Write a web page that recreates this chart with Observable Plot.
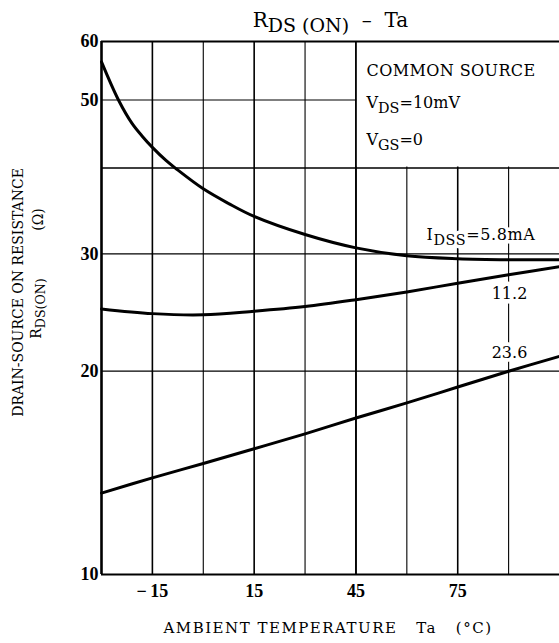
<!DOCTYPE html>
<html><head><meta charset="utf-8">
<script src="https://cdn.jsdelivr.net/npm/d3@7"></script>
<script src="https://cdn.jsdelivr.net/npm/@observablehq/plot@0.6"></script>
<style>html,body{margin:0;padding:0;background:#fff} svg{display:block}</style>
</head><body><div id="chart"></div>
<script>
// ---- data ----
const temps58 = [-30, -25, -21, -18, -15, -11, -8, 0, 7.5, 15, 30, 45, 60, 75, 90, 105];
const rds58   = [56.3, 50.0, 46.3, 44.4, 42.8, 41.0, 39.9, 37.3, 35.5, 34.0, 32.0, 30.6, 29.8, 29.5, 29.4, 29.4];
const temps   = [-30, -15, 0, 15, 30, 45, 60, 75, 90, 105];
const rds112  = [24.8, 24.4, 24.3, 24.6, 25.0, 25.6, 26.3, 27.1, 27.9, 28.7];
const rds236  = [13.2, 13.9, 14.6, 15.35, 16.15, 17.05, 17.95, 18.95, 20.0, 21.05];
const xGrid = [-15, 0, 15, 30, 45, 60, 75, 90];
const xTickLabels = [-15, 15, 45, 75];
const yGrid = [20, 30, 40, 50];
const yTickLabels = [10, 20, 30, 50, 60];
const yScaleStops = [10, 20, 30, 40, 50, 60];
const seriesLabels = ["IDSS=5.8mA", "11.2", "23.6"];
const conditionLabels = ["COMMON SOURCE", "VDS=10mV", "VGS=0"];
const title = "RDS (ON)\u00a0\u00a0–\u00a0\u00a0Ta";
const xLabel = "AMBIENT TEMPERATURE\u00a0\u00a0\u00a0Ta\u00a0\u00a0\u00a0(°C)";
const yLabel1 = "DRAIN-SOURCE ON RESISTANCE";
const yLabel2 = "RDS(ON)";
const yLabel3 = "(Ω)";

// subscript splits: [main, subscript, rest, shift(px), size]
const subs = {
  [title]: ["R", "DS (ON)", "\u00a0\u00a0–\u00a0\u00a0Ta", 5, "0.95em"],
  "VDS=10mV": ["V", "DS", "=10mV", 5, "0.9em"],
  "VGS=0": ["V", "GS", "=0", 5, "0.9em"],
  "IDSS=5.8mA": ["I", "DSS", "=5.8mA", 5, "0.9em"],
  "RDS(ON)": ["R", "DS(ON)", "", 4, "0.9em"]
};
const spacing = {[xLabel]: 1.5, "IDSS=5.8mA": 0.6, "COMMON SOURCE": 0.4};

const s58 = temps58.map((t, i) => ({t, r: rds58[i]}));
const s112 = temps.map((t, i) => ({t, r: rds112[i]}));
const s236 = temps.map((t, i) => ({t, r: rds236[i]}));

const L = 101, T = 41, B = 574;
const at = (px, py) => ({frameAnchor: "top-left", dx: px - L, dy: py - T, lineAnchor: "middle"});
const serif = "DejaVu Serif";
const tickFont = {fontFamily: "Liberation Serif", fontWeight: "bold", fontSize: 18};
const curveStyle = {x: "t", y: "r", stroke: "black", strokeWidth: 3, curve: "catmull-rom"};

const chart = Plot.plot({
  width: 559, height: 643,
  marginLeft: L, marginRight: 0, marginTop: T, marginBottom: 643 - B,
  style: {fontFamily: serif, background: "white", color: "black", overflow: "visible"},
  x: {domain: [-30, 105]},
  // log scale, piecewise-calibrated to the printed grid
  y: {type: "log", domain: yScaleStops, range: [B, 370.7, 253.3, 167.5, 99.5, T]},
  marks: [
    Plot.ruleX(xGrid, {x: d => d, stroke: "black", strokeWidth: d => xTickLabels.includes(d) ? 1.6 : 1.1}),
    Plot.ruleY(yGrid, {y: d => d, stroke: "black", strokeWidth: 1.2}),
    Plot.rect([0], {x1: 45, x2: 105, y1: 40, y2: 60, fill: "white", insetLeft: 1, insetBottom: 1}),
    Plot.ruleX([45], {x: d => d, stroke: "black", strokeWidth: 1.6}),
    Plot.ruleY([40], {y: d => d, stroke: "black", strokeWidth: 1.2}),
    Plot.line(s58, curveStyle),
    Plot.line(s112, curveStyle),
    Plot.line(s236, curveStyle),
    Plot.ruleX([-30], {x: d => d, stroke: "black", strokeWidth: 2.6}),
    Plot.ruleY([60], {y: d => d, stroke: "black", strokeWidth: 2}),
    Plot.ruleY([10], {y: d => d, stroke: "black", strokeWidth: 2.2}),
    Plot.axisY(yTickLabels, {tickSize: 0, tickPadding: 3, tickFormat: d => String(d), label: null, ...tickFont}),
    Plot.axisX(xTickLabels, {tickSize: 0, tickPadding: 10, tickFormat: d => d < 0 ? "−\u2009" + (-d) : String(d), label: null, ...tickFont}),
    Plot.text([title], {text: d => d, ...at(330, 20), textAnchor: "middle", fontSize: 20}),
    Plot.text([conditionLabels[0]], {text: d => d, ...at(366, 70.5), textAnchor: "start", fontSize: 16}),
    Plot.text([conditionLabels[1]], {text: d => d, ...at(366, 102.5), textAnchor: "start", fontSize: 16}),
    Plot.text([conditionLabels[2]], {text: d => d, ...at(366, 139), textAnchor: "start", fontSize: 16}),
    Plot.text([seriesLabels[0]], {text: d => d, ...at(426, 234.5), textAnchor: "start", fontSize: 16, fill: "black", stroke: "white", strokeWidth: 7}),
    Plot.text([seriesLabels[1]], {text: d => d, ...at(509, 293.5), textAnchor: "middle", fontSize: 16, fill: "black", stroke: "white", strokeWidth: 9}),
    Plot.text([seriesLabels[2]], {text: d => d, ...at(509, 352), textAnchor: "middle", fontSize: 16, fill: "black", stroke: "white", strokeWidth: 8}),
    Plot.text([xLabel], {text: d => d, ...at(327.5, 627.5), textAnchor: "middle", fontSize: 15}),
    Plot.text([yLabel1], {text: d => d, ...at(18.5, 292), rotate: -90, textAnchor: "middle", fontSize: 14}),
    Plot.text([yLabel2], {text: d => d, ...at(36, 308), rotate: -90, textAnchor: "middle", fontSize: 14}),
    Plot.text([yLabel3], {text: d => d, ...at(38, 219), rotate: -90, textAnchor: "middle", fontSize: 14})
  ]
});

// tick label fonts (make sure they apply)
d3.select(chart).selectAll('g[aria-label="y-axis tick label"], g[aria-label="x-axis tick label"]')
  .attr("font-family", "Liberation Serif").attr("font-weight", "bold").attr("font-size", 18);

d3.select(chart).selectAll("text").each(function() {
  const txt = this.textContent;
  if (spacing[txt] != null) this.setAttribute("letter-spacing", spacing[txt]);
  const p = subs[txt];
  if (!p) return;
  const el = d3.select(this);
  el.text(null);
  el.append("tspan").text(p[0]);
  el.append("tspan").attr("dy", p[3]).attr("font-size", p[4]).text(p[1]);
  if (p[2]) el.append("tspan").attr("dy", -p[3]).text(p[2]);
});

document.getElementById("chart").appendChild(chart);
</script>
</body></html>
